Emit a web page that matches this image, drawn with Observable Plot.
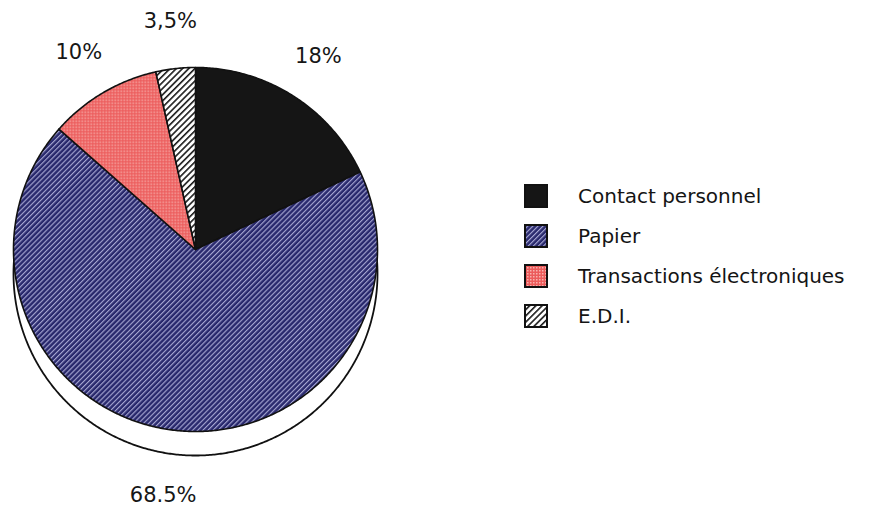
<!DOCTYPE html>
<html>
<head>
<meta charset="utf-8">
<script src="https://cdn.jsdelivr.net/npm/d3@7"></script>
<script src="https://cdn.jsdelivr.net/npm/@observablehq/plot@0.6"></script>
<style>
  html, body { margin: 0; padding: 0; background: #fff; }
  #chart { position: relative; width: 877px; height: 506px; overflow: hidden; background: #fff; }
  #legend { position: absolute; left: 524px; top: 176px; font-family: "DejaVu Sans", sans-serif; font-size: 20px; color: #141414; }
  #legend .item { display: flex; align-items: center; height: 40px; white-space: nowrap; }
  #legend svg { display: block; margin-right: 30px; }
</style>
</head>
<body>
<div id="chart"><div id="legend"></div></div>
<script>
// Canaux de transmission des commandes (part en %)
const categories = ["Contact personnel", "Papier", "Transactions électroniques", "E.D.I."];
const shares = [18, 68.5, 10, 3.5];
const shareLabels = ["18%", "68.5%", "10%", "3,5%"];
const fills = ["#151515", "url(#pat-papier)", "url(#pat-transactions)", "url(#pat-edi)"];

// Épaisseur de l'ombre sous le disque, en unités de rayon
const depth = 0.132;

// Secteurs : départ à midi, sens horaire
let acc = 0;
const slices = categories.map((category, i) => {
  const a0 = (acc / 100) * 2 * Math.PI;
  acc += shares[i];
  const a1 = (acc / 100) * 2 * Math.PI;
  return {category, a0, a1, label: shareLabels[i]};
});

const outline = slices.flatMap(s => {
  const pts = [{category: s.category, x: 0, y: 0}];
  const n = Math.max(2, Math.ceil((s.a1 - s.a0) / (Math.PI / 360)));
  for (let k = 0; k <= n; ++k) {
    const a = s.a0 + (s.a1 - s.a0) * k / n;
    pts.push({category: s.category, x: Math.sin(a), y: Math.cos(a)});
  }
  pts.push({category: s.category, x: 0, y: 0});
  return pts;
});

const shadow = d3.range(0, 721).map(k => {
  const a = (k / 720) * 2 * Math.PI;
  return {x: Math.sin(a), y: Math.cos(a) - depth};
});

// Étiquettes placées dans l'axe de chaque secteur, décalées sous l'ombre en bas
const labels = slices.map(s => {
  const m = (s.a0 + s.a1) / 2;
  const c = Math.cos(m);
  return {x: 1.26 * Math.sin(m), y: 1.26 * c + (c < 0 ? 0.8 * depth * c : 0), text: s.label};
});

const plot = Plot.plot({
  width: 877,
  height: 506,
  margin: 0,
  style: {background: "white"},
  x: {domain: [-1, 1], range: [13, 377], axis: null},
  y: {domain: [-1, 1], range: [431, 67], axis: null},
  color: {type: "ordinal", domain: categories, range: fills},
  marks: [
    Plot.line(shadow, {x: "x", y: "y", fill: "white", stroke: "#111", strokeWidth: 1.8}),
    Plot.line(outline, {x: "x", y: "y", z: "category", fill: "category", stroke: "#111", strokeWidth: 1.6, strokeLinejoin: "round"}),
    Plot.text(labels, {x: "x", y: "y", text: "text", fontSize: 21, fontFamily: "DejaVu Sans", fill: "#161616"})
  ]
});

// Motifs de remplissage
const defs = d3.select(plot).insert("defs", ":first-child");
const papier = defs.append("pattern").attr("id", "pat-papier").attr("patternUnits", "userSpaceOnUse")
  .attr("width", 3.6).attr("height", 3.6).attr("patternTransform", "rotate(-45)");
papier.append("rect").attr("width", 3.6).attr("height", 3.6).attr("fill", "#28286c");
papier.append("rect").attr("y", 0).attr("width", 3.6).attr("height", 1.15).attr("fill", "#a6a6d2");

const trans = defs.append("pattern").attr("id", "pat-transactions").attr("patternUnits", "userSpaceOnUse")
  .attr("width", 3).attr("height", 3);
trans.append("rect").attr("width", 3).attr("height", 3).attr("fill", "#ec5b5b");
trans.append("rect").attr("width", 1.5).attr("height", 1.5).attr("fill", "#f7b2ae");

const edi = defs.append("pattern").attr("id", "pat-edi").attr("patternUnits", "userSpaceOnUse")
  .attr("width", 4.4).attr("height", 4.4).attr("patternTransform", "rotate(-45)");
edi.append("rect").attr("width", 4.4).attr("height", 4.4).attr("fill", "#ffffff");
edi.append("rect").attr("width", 4.4).attr("height", 1.6).attr("fill", "#1a1a1a");

document.getElementById("chart").prepend(plot);

// Légende
const color = plot.scale("color");
const legend = d3.select("#legend");
color.domain.forEach((name, i) => {
  const item = legend.append("div").attr("class", "item");
  const sw = item.append("svg").attr("width", 24).attr("height", 24);
  sw.append("rect").attr("x", 1).attr("y", 1).attr("width", 22).attr("height", 22)
    .attr("fill", color.range[i]).attr("stroke", "#111").attr("stroke-width", 2);
  item.append("span").text(name);
});
</script>
</body>
</html>
